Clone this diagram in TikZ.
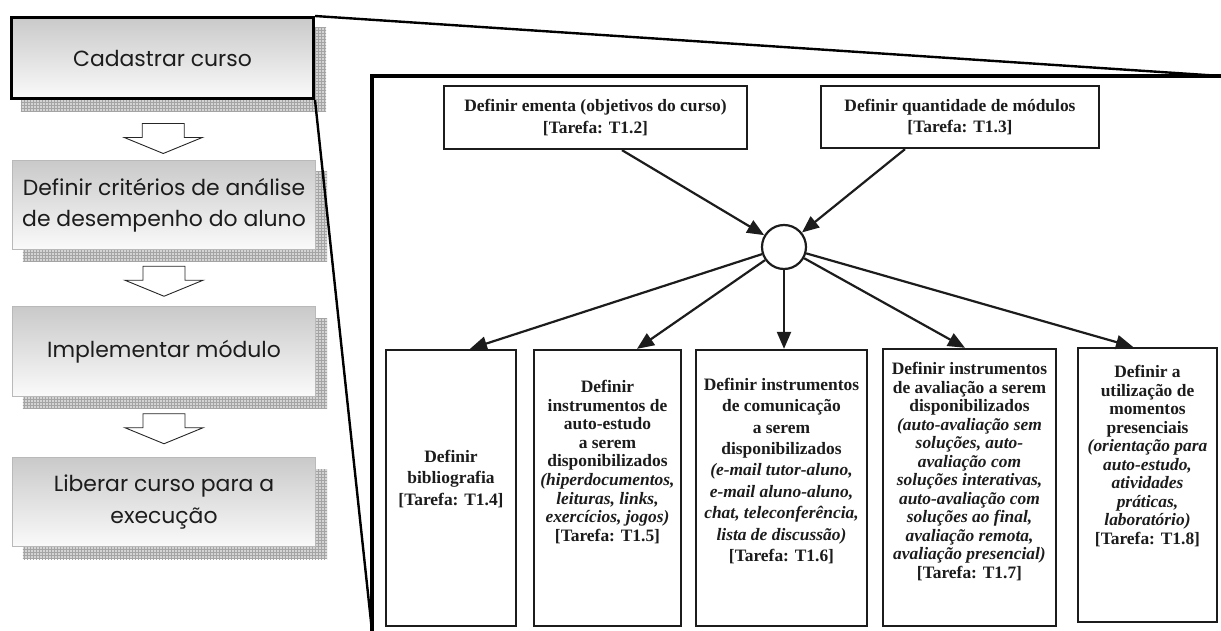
\documentclass[tikz,border=0pt]{standalone}
\usepackage{fontspec}
\setmainfont{Liberation Serif}
\newfontfamily\stepfont{Poppins}
\usetikzlibrary{arrows.meta,calc,backgrounds}

\definecolor{shadowfill}{HTML}{D4D4D4}
\definecolor{shadowgrid}{HTML}{A4A4A4}
\definecolor{ink}{HTML}{1C1C1C}

\tikzset{
  stepbox/.style={rectangle, draw=gray!55, line width=1bp, top color=gray!42,
    bottom color=gray!4, minimum width=303bp, minimum height=89bp, align=center,
    font=\stepfont\fontsize{22}{31.5}\selectfont, text=ink, inner sep=0pt},
  firstbox/.style={stepbox, draw=black, line width=3bp},
  hollow/.style={draw=black!85, fill=white, line width=0.9bp, line join=miter},
  zoomline/.style={line width=2.4bp, black},
  panel/.style={line width=3.6bp, black},
  taskbox/.style={rectangle, draw=ink, line width=2.3bp, fill=white, inner sep=0pt},
  tasktext/.style={align=center, font=\bfseries\fontsize{17.5}{18.6}\selectfont,
    text=ink, inner sep=0pt},
  loose/.style={font=\bfseries\fontsize{17.5}{21.5}\selectfont},
  joint/.style={circle, draw=ink, line width=2.2bp, minimum size=44bp, inner sep=0pt, fill=white},
  flow/.style={line width=2.2bp, draw=ink, -{Triangle[length=17bp,width=14bp]}},
}

% grid-patterned drop shadow behind a step box
\newcommand\boxshadow[1]{%
  \begin{scope}
    \clip ($(#1.north west)+(11,12)$) rectangle ($(#1.south east)+(11,12)$);
    \fill[shadowfill] ($(#1.north west)+(11,12)$) rectangle ($(#1.south east)+(11,12)$);
    \draw[shadowgrid, line width=0.55bp, step=3bp] ($(#1.north west)+(0,0)$) grid ($(#1.south east)+(20,20)$);
  \end{scope}}

% hollow block arrow between two step boxes
\newcommand\hollowarrow[3]{%
  \draw[hollow, shift={($(#1.south)!0.5!(#2.north)+(0,#3)$)}]
    (-21,-15) -- (21,-15) -- (21,-1) -- (39,-1) -- (0,15) -- (-39,-1) -- (-21,-1) -- cycle;}

\newcommand\ital[1]{{\itshape #1}}

\begin{document}
\begin{tikzpicture}[x=1bp,y=-1bp]
\useasboundingbox (0,0) rectangle (1221,631);

% ---- left column: course registration steps
\node[firstbox, minimum width=302bp, minimum height=81bp] (l1) at (162.5,58) {Cadastrar curso};
\node[stepbox] (l2) at (164,205) {Definir critérios de análise\\de desempenho do aluno};
\node[stepbox] (l3) at (164,351.5) {Implementar módulo};
\node[stepbox] (l4) at (164,502) {Liberar curso para a\\execução};

\begin{scope}[on background layer]
  \boxshadow{l1}
  \boxshadow{l2}
  \boxshadow{l3}
  \boxshadow{l4}
\end{scope}

\hollowarrow{l1}{l2}{8.5}
\hollowarrow{l2}{l3}{3}
\hollowarrow{l3}{l4}{2}

% ---- detail panel and the lines that open it
\coordinate (pTL) at (372,76);
\coordinate (pTR) at (1221,76);
\coordinate (pBL) at (372,631);
\draw[panel] (pBL) -- (pTL) -- (pTR);
\draw[zoomline] (l1.north east) -- (pTR);
\draw[zoomline] (l1.south east) -- (pBL);

% ---- upper tasks
\node[taskbox, tasktext, minimum width=303bp, minimum height=63bp,
  font=\bfseries\fontsize{17.5}{22}\selectfont] (t1) at (595.5,117.5)
  {Definir ementa (objetivos do curso)\\{}[Tarefa: T1.2]};
\node[taskbox, tasktext, minimum width=278bp, minimum height=62bp,
  font=\bfseries\fontsize{17.5}{22}\selectfont] (t2) at (960,117)
  {Definir quantidade de módulos\\{}[Tarefa: T1.3]};

\node[joint] (c) at (784,247) {};

% ---- lower tasks
\node[taskbox, minimum width=130bp, minimum height=276bp] (b1) at (451,488) {};
\node[taskbox, minimum width=147bp, minimum height=276bp] (b2) at (607.5,488) {};
\node[taskbox, minimum width=171bp, minimum height=276bp] (b3) at (781.5,488) {};
\node[taskbox, minimum width=173bp, minimum height=277bp] (b4) at (969.5,487.5) {};
\node[taskbox, minimum width=139bp, minimum height=274bp] (b5) at (1147.5,485) {};

\node[tasktext, loose] (b1t) at (451,479) {Definir\\bibliografia\\{}[Tarefa: T1.4]};
\node[tasktext] (b2t) at (607.5,462) {Definir\\instrumentos de\\auto-estudo\\a serem\\disponibilizados\\
  \ital{(hiperdocumentos,}\\\ital{leituras, links,}\\\ital{exercícios, jogos)}\\{}[Tarefa: T1.5]};
\node[tasktext, loose] (b3t) at (781.5,471) {Definir instrumentos\\de comunicação\\a serem\\disponibilizados\\
  \ital{(e-mail tutor-aluno,}\\\ital{e-mail aluno-aluno,}\\\ital{chat, teleconferência,}\\\ital{lista de discussão)}\\{}[Tarefa: T1.6]};
\node[tasktext] (b4t) at (969.5,471.5) {Definir instrumentos\\de avaliação a serem\\disponibilizados\\
  \ital{(auto-avaliação sem}\\\ital{soluções, auto-}\\\ital{avaliação com}\\\ital{soluções interativas,}\\
  \ital{auto-avaliação com}\\\ital{soluções ao final,}\\\ital{avaliação remota,}\\\ital{avaliação presencial)}\\{}[Tarefa: T1.7]};
\node[tasktext] (b5t) at (1147.5,456) {Definir a\\utilização de\\momentos\\presenciais\\
  \ital{(orientação para}\\\ital{auto-estudo,}\\\ital{atividades}\\\ital{práticas,}\\\ital{laboratório)}\\{}[Tarefa: T1.8]};

% ---- flow through the junction
\draw[flow] ([xshift=26.5bp]t1.south) -- (c);
\draw[flow] ([xshift=-55bp]t2.south) -- (c);
\draw[flow] (c) -- ([xshift=19bp]b1.north);
\draw[flow] (c) -- ([xshift=29.5bp]b2.north);
\draw[flow] (c) -- (c |- b3.north);
\draw[flow] (c) -- ([xshift=-4.5bp]b4.north);
\draw[flow] (c) -- ([xshift=-14.5bp]b5.north);
\end{tikzpicture}
\end{document}
